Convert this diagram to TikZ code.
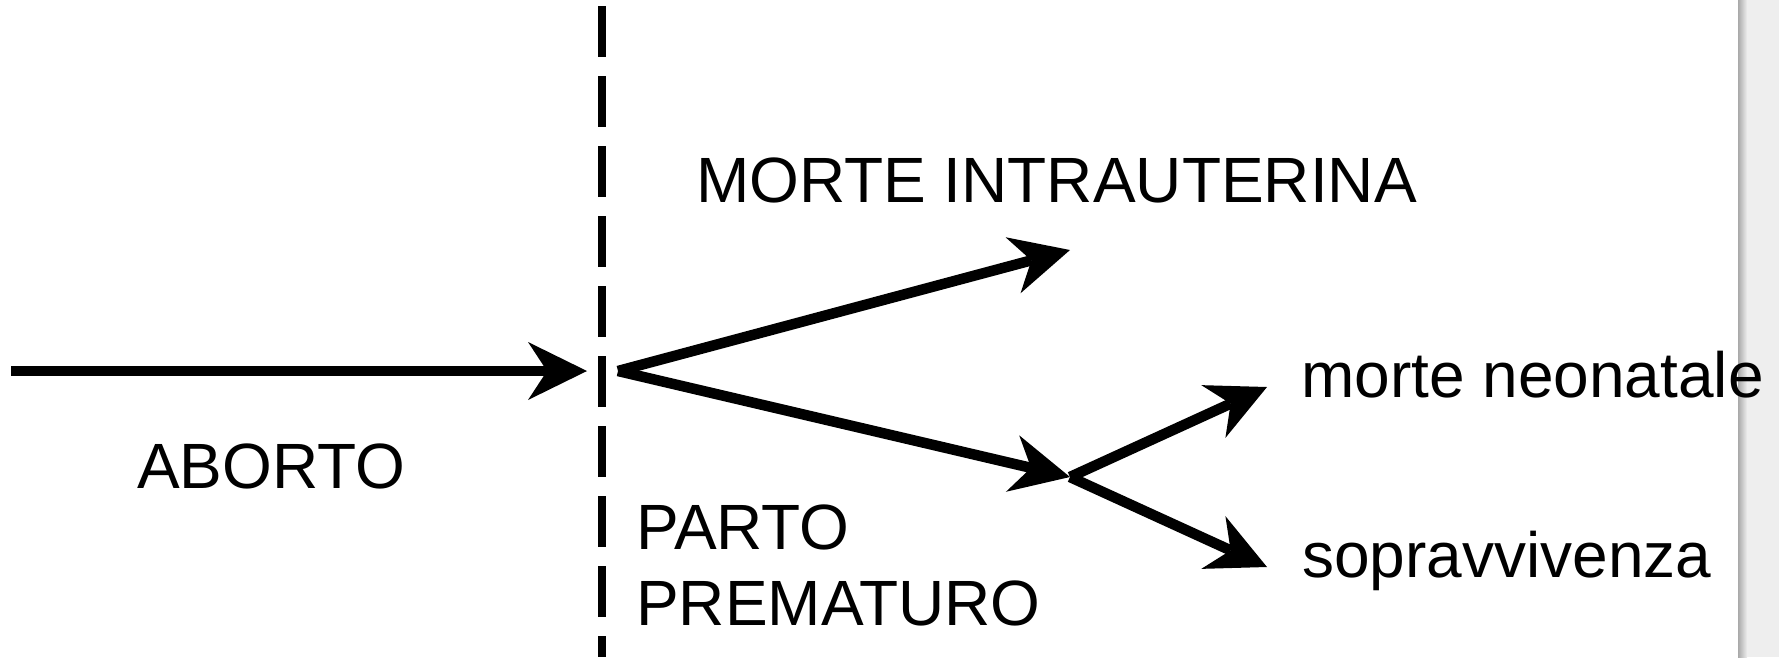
\documentclass[tikz,border=0pt]{standalone}
\usepackage{fontspec}
\setmainfont{Liberation Sans}
\usetikzlibrary{arrows.meta}
\definecolor{paneledge}{HTML}{A9A9A9}
\definecolor{panel}{HTML}{EEEEEE}

\tikzset{
  flow/.style={line width=10.5pt,
    -{Stealth[length=59pt,width=58pt,inset=19pt,line width=0pt]}},
  lbl/.style={inner sep=0pt, anchor=base west,
    font=\fontsize{64}{76}\selectfont},
  divider/.style={line width=8pt, dash pattern=on 51pt off 19pt}
}

\begin{document}
\begin{tikzpicture}[x=1pt,y=-1pt]
\useasboundingbox (0,0) rectangle (1779,657);

% grey page edge on the right
\fill[panel] (1738,0) rectangle (1779,657);
\shade[left color=paneledge, right color=panel] (1738,0) rectangle (1747,657);

% dashed threshold
\coordinate (divtop) at (602,6);
\coordinate (divbot) at (602,657);
\draw[divider] (divtop) -- (divbot);

% branching points
\coordinate (origin) at (11,371);
\coordinate (limit) at (587,371);
\coordinate (split) at (618,371);
\coordinate (intra) at (1070,250);
\coordinate (fork) at (1070,477);
\coordinate (neo) at (1267,387);
\coordinate (surv) at (1267,567);

\draw[flow] (origin) -- (limit);
\draw[flow] (split) -- (intra);
\draw[flow] (split) -- (fork);
\draw[flow] (fork) -- (neo);
\draw[flow] (fork) -- (surv);

% labels (a two-line node is anchored on its last baseline)
\node[lbl] (aborto) at (137,488) {ABORTO};
\node[lbl] (mit) at (696,202) {MORTE INTRAUTERINA};
\node[lbl, align=left] (parto) at (636,625) {PARTO\\PREMATURO};
\node[lbl] (mneo) at (1301,397) {morte neonatale};
\node[lbl] (sopr) at (1302,577) {sopravvivenza};
\end{tikzpicture}
\end{document}
